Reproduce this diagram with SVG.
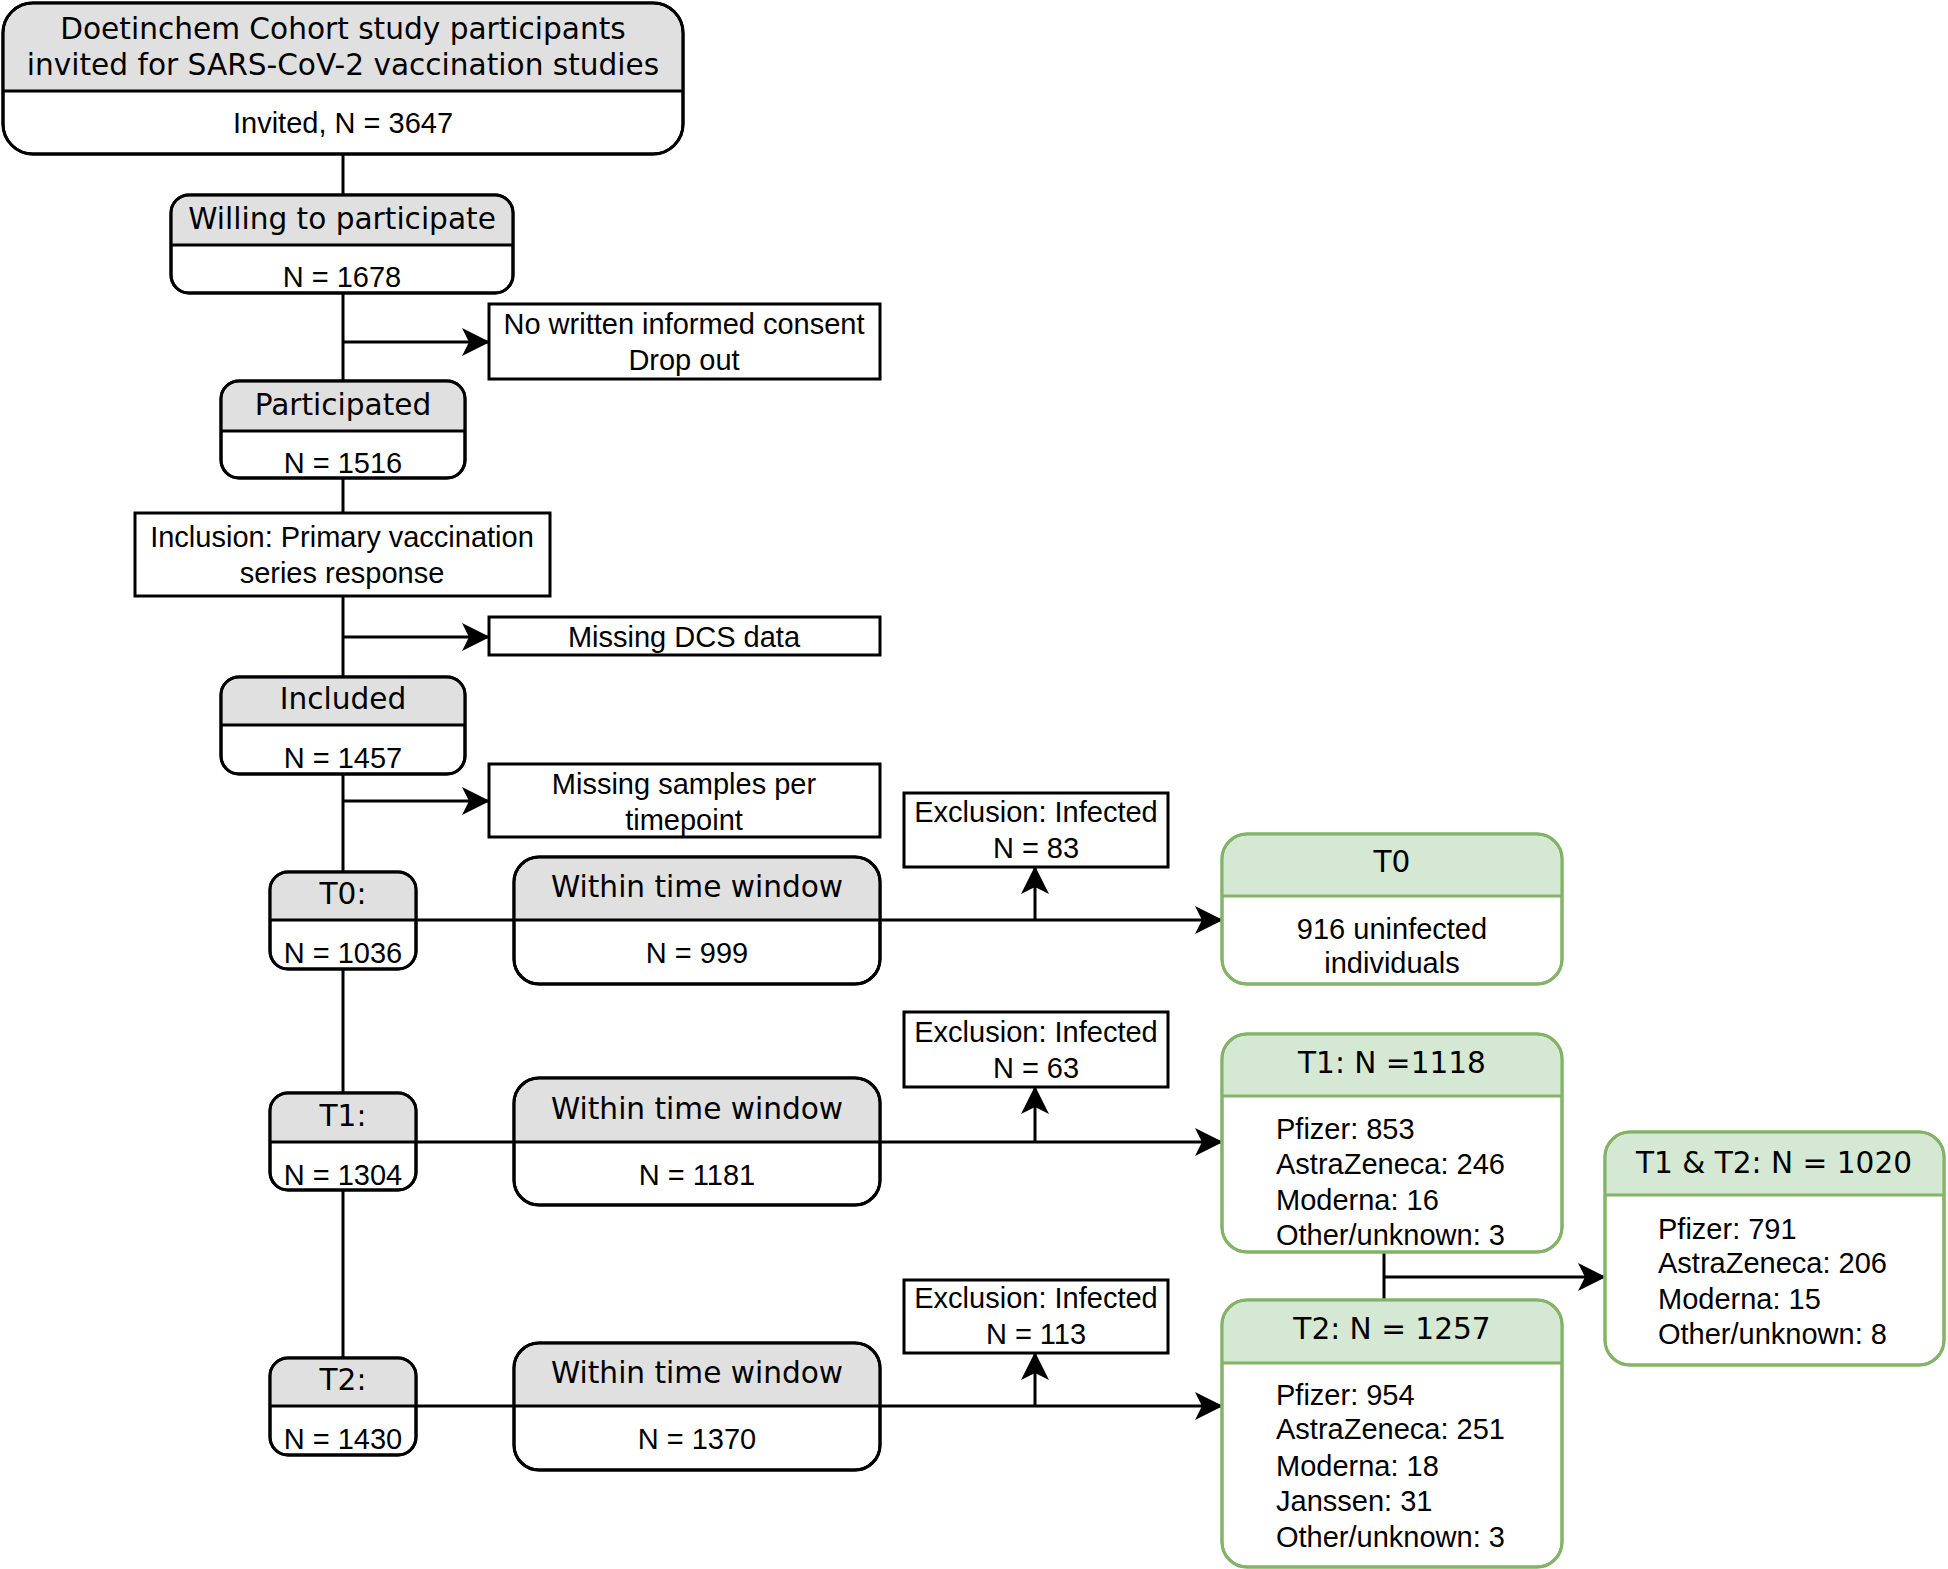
<svg xmlns="http://www.w3.org/2000/svg" width="1948" height="1569" viewBox="0 0 1948 1569">
<defs>
<marker id="arr" markerUnits="userSpaceOnUse" markerWidth="30" markerHeight="30" refX="27" refY="14.5" orient="auto">
<path d="M0,0.5 L28,14.5 L0,28.5 L7,14.5 Z" fill="#000"/>
</marker>
<style>
.bx{fill:#fff;stroke:#000;stroke-width:3}
.hd{fill:#e0e0e0;stroke:none}
.gbx{fill:#fff;stroke:#82b366;stroke-width:3}
.ghd{fill:#d5e8d4;stroke:none}
.dv{stroke:#000;stroke-width:3}
.gdv{stroke:#82b366;stroke-width:3}
.ln{fill:none;stroke:#000;stroke-width:3}
.h{font-family:"DejaVu Sans",Verdana,sans-serif;font-size:29.6px;fill:#000;text-anchor:middle}
.t{font-family:"Liberation Sans",Arial,sans-serif;font-size:29px;fill:#000;text-anchor:middle}
.tl{font-family:"Liberation Sans",Arial,sans-serif;font-size:29px;fill:#000;text-anchor:start}
</style>
</defs>
<rect width="1948" height="1569" fill="#fff"/>
<g id="connectors">
<path class="ln" d="M343,154 V1358"/>
<path class="ln" d="M343,342 H489" marker-end="url(#arr)"/>
<path class="ln" d="M343,637 H489" marker-end="url(#arr)"/>
<path class="ln" d="M343,801 H489" marker-end="url(#arr)"/>
<path class="ln" d="M416,920 H514"/>
<path class="ln" d="M880,920 H1222" marker-end="url(#arr)"/>
<path class="ln" d="M1035,920 V867" marker-end="url(#arr)"/>
<path class="ln" d="M416,1142 H514"/>
<path class="ln" d="M880,1142 H1222" marker-end="url(#arr)"/>
<path class="ln" d="M1035,1142 V1087" marker-end="url(#arr)"/>
<path class="ln" d="M416,1406 H514"/>
<path class="ln" d="M880,1406 H1222" marker-end="url(#arr)"/>
<path class="ln" d="M1035,1406 V1353" marker-end="url(#arr)"/>
<path class="ln" d="M1384,1252 V1300"/>
<path class="ln" d="M1384,1277 H1605" marker-end="url(#arr)"/>
</g>
<g id="invited">
<rect class="bx" x="3" y="3" width="680" height="151" rx="30"/>
<path class="hd" d="M4.5,91 V33 A28.5,28.5 0 0 1 33,4.5 H653 A28.5,28.5 0 0 1 681.5,33 V91 Z"/>
<rect x="3" y="3" width="680" height="151" rx="30" fill="none" stroke="#000" stroke-width="3"/>
<line class="dv" x1="3" y1="91" x2="683" y2="91"/>
<text class="h" x="343" y="39">Doetinchem Cohort study participants</text>
<text class="h" x="343" y="75">invited for SARS-CoV-2 vaccination studies</text>
<text class="t" x="343" y="133">Invited, N = 3647</text>
</g>
<g id="willing">
<rect class="bx" x="171" y="195" width="342" height="98" rx="18"/>
<path class="hd" d="M172.5,245 V214 A17,17 0 0 1 189.5,196.5 H494.5 A17,17 0 0 1 511.5,214 V245 Z"/>
<rect x="171" y="195" width="342" height="98" rx="18" fill="none" stroke="#000" stroke-width="3"/>
<line class="dv" x1="171" y1="245" x2="513" y2="245"/>
<text class="h" x="342" y="229">Willing to participate</text>
<text class="t" x="342" y="287">N = 1678</text>
</g>
<g id="noconsent">
<rect class="bx" x="489" y="304" width="391" height="75"/>
<text class="t" x="684" y="334">No written informed consent</text>
<text class="t" x="684" y="370">Drop out</text>
</g>
<g id="participated">
<rect class="bx" x="221" y="381" width="244" height="97" rx="18"/>
<path class="hd" d="M222.5,431 V400 A17,17 0 0 1 239.5,382.5 H446.5 A17,17 0 0 1 463.5,400 V431 Z"/>
<rect x="221" y="381" width="244" height="97" rx="18" fill="none" stroke="#000" stroke-width="3"/>
<line class="dv" x1="221" y1="431" x2="465" y2="431"/>
<text class="h" x="343" y="415">Participated</text>
<text class="t" x="343" y="473">N = 1516</text>
</g>
<g id="inclusion">
<rect class="bx" x="135" y="513" width="415" height="83"/>
<text class="t" x="342" y="547">Inclusion: Primary vaccination</text>
<text class="t" x="342" y="583">series response</text>
</g>
<g id="missingdcs">
<rect class="bx" x="489" y="617" width="391" height="38"/>
<text class="t" x="684" y="647">Missing DCS data</text>
</g>
<g id="included">
<rect class="bx" x="221" y="677" width="244" height="97" rx="18"/>
<path class="hd" d="M222.5,725 V696 A17,17 0 0 1 239.5,678.5 H446.5 A17,17 0 0 1 463.5,696 V725 Z"/>
<rect x="221" y="677" width="244" height="97" rx="18" fill="none" stroke="#000" stroke-width="3"/>
<line class="dv" x1="221" y1="725" x2="465" y2="725"/>
<text class="h" x="343" y="709">Included</text>
<text class="t" x="343" y="768">N = 1457</text>
</g>
<g id="missingsamples">
<rect class="bx" x="489" y="764" width="391" height="73"/>
<text class="t" x="684" y="794">Missing samples per</text>
<text class="t" x="684" y="830">timepoint</text>
</g>
<g id="t0">
<rect class="bx" x="270" y="872" width="146" height="97" rx="18"/>
<path class="hd" d="M271.5,920 V891 A17,17 0 0 1 288.5,873.5 H397.5 A17,17 0 0 1 414.5,891 V920 Z"/>
<rect x="270" y="872" width="146" height="97" rx="18" fill="none" stroke="#000" stroke-width="3"/>
<line class="dv" x1="270" y1="920" x2="416" y2="920"/>
<text class="h" x="343" y="904">T0:</text>
<text class="t" x="343" y="963">N = 1036</text>
</g>
<g id="window0">
<rect class="bx" x="514" y="857" width="366" height="127" rx="25"/>
<path class="hd" d="M515.5,920 V882 A24,24 0 0 1 539.5,858.5 H854.5 A24,24 0 0 1 878.5,882 V920 Z"/>
<rect x="514" y="857" width="366" height="127" rx="25" fill="none" stroke="#000" stroke-width="3"/>
<line class="dv" x1="514" y1="920" x2="880" y2="920"/>
<text class="h" x="697" y="897">Within time window</text>
<text class="t" x="697" y="963">N = 999</text>
</g>
<g id="excl0">
<rect class="bx" x="904" y="793" width="264" height="74"/>
<text class="t" x="1036" y="822">Exclusion: Infected</text>
<text class="t" x="1036" y="858">N = 83</text>
</g>
<g id="green0">
<rect class="gbx" x="1222" y="834" width="340" height="150" rx="25"/>
<path class="ghd" d="M1223.5,896 V859 A24,24 0 0 1 1247.5,835.5 H1536.5 A24,24 0 0 1 1560.5,859 V896 Z"/>
<rect x="1222" y="834" width="340" height="150" rx="25" fill="none" stroke="#82b366" stroke-width="3"/>
<line class="gdv" x1="1222" y1="896" x2="1562" y2="896"/>
<text class="h" x="1392" y="872">T0</text>
<text class="t" x="1392" y="939">916 uninfected</text>
<text class="t" x="1392" y="973">individuals</text>
</g>
<g id="t1">
<rect class="bx" x="270" y="1093" width="146" height="97" rx="18"/>
<path class="hd" d="M271.5,1142 V1112 A17,17 0 0 1 288.5,1094.5 H397.5 A17,17 0 0 1 414.5,1112 V1142 Z"/>
<rect x="270" y="1093" width="146" height="97" rx="18" fill="none" stroke="#000" stroke-width="3"/>
<line class="dv" x1="270" y1="1142" x2="416" y2="1142"/>
<text class="h" x="343" y="1126">T1:</text>
<text class="t" x="343" y="1185">N = 1304</text>
</g>
<g id="window1">
<rect class="bx" x="514" y="1078" width="366" height="127" rx="25"/>
<path class="hd" d="M515.5,1142 V1103 A24,24 0 0 1 539.5,1079.5 H854.5 A24,24 0 0 1 878.5,1103 V1142 Z"/>
<rect x="514" y="1078" width="366" height="127" rx="25" fill="none" stroke="#000" stroke-width="3"/>
<line class="dv" x1="514" y1="1142" x2="880" y2="1142"/>
<text class="h" x="697" y="1119">Within time window</text>
<text class="t" x="697" y="1185">N = 1181</text>
</g>
<g id="excl1">
<rect class="bx" x="904" y="1012" width="264" height="75"/>
<text class="t" x="1036" y="1042">Exclusion: Infected</text>
<text class="t" x="1036" y="1078">N = 63</text>
</g>
<g id="green1">
<rect class="gbx" x="1222" y="1034" width="340" height="218" rx="25"/>
<path class="ghd" d="M1223.5,1096 V1059 A24,24 0 0 1 1247.5,1035.5 H1536.5 A24,24 0 0 1 1560.5,1059 V1096 Z"/>
<rect x="1222" y="1034" width="340" height="218" rx="25" fill="none" stroke="#82b366" stroke-width="3"/>
<line class="gdv" x1="1222" y1="1096" x2="1562" y2="1096"/>
<text class="h" x="1392" y="1073">T1: N =1118</text>
<text class="tl" x="1276" y="1139">Pfizer: 853</text>
<text class="tl" x="1276" y="1174">AstraZeneca: 246</text>
<text class="tl" x="1276" y="1210">Moderna: 16</text>
<text class="tl" x="1276" y="1245">Other/unknown: 3</text>
</g>
<g id="t2">
<rect class="bx" x="270" y="1358" width="146" height="97" rx="18"/>
<path class="hd" d="M271.5,1406 V1377 A17,17 0 0 1 288.5,1359.5 H397.5 A17,17 0 0 1 414.5,1377 V1406 Z"/>
<rect x="270" y="1358" width="146" height="97" rx="18" fill="none" stroke="#000" stroke-width="3"/>
<line class="dv" x1="270" y1="1406" x2="416" y2="1406"/>
<text class="h" x="343" y="1390">T2:</text>
<text class="t" x="343" y="1449">N = 1430</text>
</g>
<g id="window2">
<rect class="bx" x="514" y="1343" width="366" height="127" rx="25"/>
<path class="hd" d="M515.5,1406 V1368 A24,24 0 0 1 539.5,1344.5 H854.5 A24,24 0 0 1 878.5,1368 V1406 Z"/>
<rect x="514" y="1343" width="366" height="127" rx="25" fill="none" stroke="#000" stroke-width="3"/>
<line class="dv" x1="514" y1="1406" x2="880" y2="1406"/>
<text class="h" x="697" y="1383">Within time window</text>
<text class="t" x="697" y="1449">N = 1370</text>
</g>
<g id="excl2">
<rect class="bx" x="904" y="1280" width="264" height="73"/>
<text class="t" x="1036" y="1308">Exclusion: Infected</text>
<text class="t" x="1036" y="1344">N = 113</text>
</g>
<g id="green2">
<rect class="gbx" x="1222" y="1300" width="340" height="267" rx="25"/>
<path class="ghd" d="M1223.5,1363 V1325 A24,24 0 0 1 1247.5,1301.5 H1536.5 A24,24 0 0 1 1560.5,1325 V1363 Z"/>
<rect x="1222" y="1300" width="340" height="267" rx="25" fill="none" stroke="#82b366" stroke-width="3"/>
<line class="gdv" x1="1222" y1="1363" x2="1562" y2="1363"/>
<text class="h" x="1392" y="1339">T2: N = 1257</text>
<text class="tl" x="1276" y="1405">Pfizer: 954</text>
<text class="tl" x="1276" y="1439">AstraZeneca: 251</text>
<text class="tl" x="1276" y="1476">Moderna: 18</text>
<text class="tl" x="1276" y="1511">Janssen: 31</text>
<text class="tl" x="1276" y="1547">Other/unknown: 3</text>
</g>
<g id="green12">
<rect class="gbx" x="1605" y="1132" width="339" height="233" rx="25"/>
<path class="ghd" d="M1606.5,1195 V1157 A24,24 0 0 1 1630.5,1133.5 H1918.5 A24,24 0 0 1 1942.5,1157 V1195 Z"/>
<rect x="1605" y="1132" width="339" height="233" rx="25" fill="none" stroke="#82b366" stroke-width="3"/>
<line class="gdv" x1="1605" y1="1195" x2="1944" y2="1195"/>
<text class="h" x="1774" y="1173">T1 &amp; T2: N = 1020</text>
<text class="tl" x="1658" y="1239">Pfizer: 791</text>
<text class="tl" x="1658" y="1273">AstraZeneca: 206</text>
<text class="tl" x="1658" y="1309">Moderna: 15</text>
<text class="tl" x="1658" y="1344">Other/unknown: 8</text>
</g>
</svg>
